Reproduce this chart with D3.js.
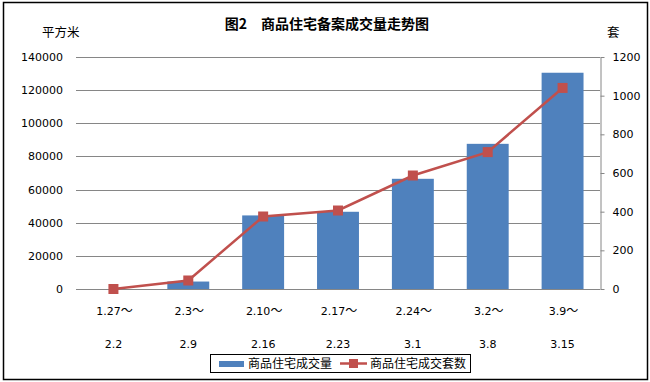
<!DOCTYPE html>
<html>
<head>
<meta charset="utf-8">
<script src="https://cdn.jsdelivr.net/npm/d3@7"></script>
<style>
body { margin: 0; background: #fff; }
</style>
</head>
<body>
<div id="chart"></div>
<script>
// data
var periodStart = ["1.27～", "2.3～", "2.10～", "2.17～", "2.24～", "3.2～", "3.9～"];
var periodEnd = ["2.2", "2.9", "2.16", "2.23", "3.1", "3.8", "3.15"];
var areaValues = [0, 4500, 44400, 46600, 66500, 87600, 130500];
var unitValues = [0, 44, 375, 406, 587, 708, 1040];
var leftTicks = [0, 20000, 40000, 60000, 80000, 100000, 120000, 140000];
var rightTicks = [0, 200, 400, 600, 800, 1000, 1200];

var W = 650, H = 382;
var plotLeft = 76, plotRight = 600, plotTop = 57, plotBottom = 289;
var cjk = "'Noto Sans CJK SC', sans-serif";
var num = "'DejaVu Sans', sans-serif";

var svg = d3.select("#chart")
  .append("svg")
  .attr("width", W)
  .attr("height", H);

// outer frame
svg.append("rect")
  .attr("x", 3.5).attr("y", 2.5)
  .attr("width", 644).attr("height", 377)
  .attr("fill", "#fff")
  .attr("stroke", "#000")
  .attr("stroke-width", 1.5);

var x = d3.scaleBand()
  .domain(periodStart.map(function(d, i) { return i; }))
  .range([plotLeft, plotRight])
  .paddingInner(0.44)
  .paddingOuter(0.22);

var xc = function(i) { return x(i) + x.bandwidth() / 2; };

var yL = d3.scaleLinear().domain([0, 140000]).range([plotBottom, plotTop]);
var yR = d3.scaleLinear().domain([0, 1200]).range([plotBottom, plotTop]);

// gridlines
svg.append("g")
  .selectAll("line")
  .data(leftTicks)
  .enter()
  .append("line")
  .attr("x1", plotLeft)
  .attr("x2", plotRight)
  .attr("y1", function(d) { return Math.round(yL(d)) + 0.5; })
  .attr("y2", function(d) { return Math.round(yL(d)) + 0.5; })
  .attr("stroke", "#868686")
  .attr("stroke-width", 1);

// left axis labels
var axL = svg.append("g")
  .attr("transform", "translate(" + (plotLeft - 13) + ",0)")
  .call(d3.axisLeft(yL).tickValues(leftTicks).tickSize(0).tickPadding(0).tickFormat(d3.format("d")));
axL.select(".domain").remove();
axL.selectAll("text")
  .attr("font-family", num)
  .attr("font-size", "11px")
  .attr("fill", "#000");

// right axis
var axR = svg.append("g")
  .attr("transform", "translate(" + (plotRight + 0.5) + ",0)")
  .call(d3.axisRight(yR).tickValues(rightTicks).tickSize(4).tickPadding(8).tickSizeOuter(0).tickFormat(d3.format("d")));
axR.select(".domain").attr("stroke", "#868686");
axR.selectAll(".tick line").attr("stroke", "#868686");
axR.selectAll("text")
  .attr("font-family", num)
  .attr("font-size", "11px")
  .attr("fill", "#000");

// bars
svg.append("g")
  .selectAll("rect")
  .data(areaValues)
  .enter()
  .append("rect")
  .attr("x", function(d, i) { return x(i); })
  .attr("y", function(d) { return yL(d); })
  .attr("width", x.bandwidth())
  .attr("height", function(d) { return plotBottom - yL(d); })
  .attr("fill", "#4F81BD");

// line
var line = d3.line()
  .x(function(d, i) { return xc(i); })
  .y(function(d) { return yR(d); });

svg.append("path")
  .datum(unitValues)
  .attr("d", line)
  .attr("fill", "none")
  .attr("stroke", "#C0504D")
  .attr("stroke-width", 2.5);

svg.append("g")
  .selectAll("rect")
  .data(unitValues)
  .enter()
  .append("rect")
  .attr("x", function(d, i) { return xc(i) - 5; })
  .attr("y", function(d) { return yR(d) - 5; })
  .attr("width", 10)
  .attr("height", 10)
  .attr("fill", "#C0504D");

// category labels, two lines (the wide tilde comes from the CJK font)
var xlab = svg.append("g")
  .attr("font-family", num)
  .attr("font-size", "11px")
  .attr("text-anchor", "middle");
var l1 = xlab.selectAll(".l1")
  .data(periodStart)
  .enter()
  .append("text")
  .attr("class", "l1")
  .attr("x", function(d, i) { return xc(i) + 1; })
  .attr("y", 315);
l1.append("tspan").text(function(d) { return d.slice(0, -1); });
l1.append("tspan")
  .attr("font-family", cjk)
  .attr("font-size", "12px")
  .text(function(d) { return d.slice(-1); });
xlab.selectAll(".l2")
  .data(periodEnd)
  .enter()
  .append("text")
  .attr("class", "l2")
  .attr("x", function(d, i) { return xc(i); })
  .attr("y", 347.5)
  .text(function(d) { return d; });

// title and axis units
svg.append("text")
  .attr("x", 327)
  .attr("y", 29)
  .attr("text-anchor", "middle")
  .attr("font-family", cjk)
  .attr("font-weight", "bold")
  .attr("font-size", "14px")
  .text("图2　商品住宅备案成交量走势图");

svg.append("text")
  .attr("x", 42)
  .attr("y", 37)
  .attr("font-family", cjk)
  .attr("font-size", "12.5px")
  .text("平方米");

svg.append("text")
  .attr("x", 607)
  .attr("y", 37)
  .attr("font-family", cjk)
  .attr("font-size", "12.5px")
  .text("套");

// legend
var lg = svg.append("g");
lg.append("rect")
  .attr("x", 210.5).attr("y", 354.5)
  .attr("width", 260).attr("height", 18)
  .attr("fill", "#fff")
  .attr("stroke", "#000");
lg.append("rect")
  .attr("x", 219).attr("y", 361)
  .attr("width", 25).attr("height", 6)
  .attr("fill", "#4F81BD");
lg.append("text")
  .attr("x", 248).attr("y", 368)
  .attr("font-family", cjk)
  .attr("font-size", "12px")
  .text("商品住宅成交量");
lg.append("line")
  .attr("x1", 340).attr("x2", 367)
  .attr("y1", 363.5).attr("y2", 363.5)
  .attr("stroke", "#C0504D")
  .attr("stroke-width", 2.5);
lg.append("rect")
  .attr("x", 349).attr("y", 359)
  .attr("width", 9).attr("height", 9)
  .attr("fill", "#C0504D");
lg.append("text")
  .attr("x", 370).attr("y", 368)
  .attr("font-family", cjk)
  .attr("font-size", "12px")
  .text("商品住宅成交套数");
</script>
</body>
</html>
